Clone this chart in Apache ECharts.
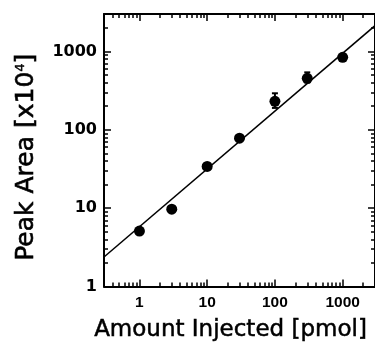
<!DOCTYPE html>
<html><head><meta charset="utf-8">
<script src="https://cdn.jsdelivr.net/npm/echarts@6/dist/echarts.min.js"></script>
<style>html,body{margin:0;padding:0;background:#fff}#c{width:375px;height:351px}</style>
</head><body><div id="c"></div>
<script>
// Data
const amounts = [1, 3, 10, 30, 100, 300, 1000];          // pmol
const peakAreas = [5.1, 9.7, 34, 78, 231, 453, 839];     // x10^4
const errLow  = [null, null, null, null, 190, 400, null];
const errHigh = [null, null, null, null, 292, 540, null];
const fitX = [0.3, 3000];
const fitY = [2.38, 2130];
// Tick values
const xMajorTicks = [1, 10, 100, 1000];
const xMinorTicks = [0.3,0.4,0.5,0.6,0.7,0.8,0.9,2,3,4,5,6,7,8,9,20,30,40,50,60,70,80,90,200,300,400,500,600,700,800,900,2000,3000];
const yMajorTicks = [1, 10, 100, 1000];
const yMinorTicks = [2,3,4,5,6,7,8,9,20,30,40,50,60,70,80,90,200,300,400,500,600,700,800,900,2000,3000];
const xTitle = 'Amount Injected [pmol]';
const yTitle = 'Peak Area [x10{sup|4}]';

const FONT = 'DejaVu Sans';
const lineStyle = {color: '#000', width: 2};

function xAxisDef(pos, ticks, len, showLine, labels, name) {
  return {
    type: 'log', logBase: 10, min: 0.3, max: 3000, position: pos,
    axisLine: {show: showLine, lineStyle: lineStyle},
    axisTick: {show: true, inside: true, length: len, customValues: ticks, lineStyle: {color: '#000', width: 1.5}},
    axisLabel: labels ? {show: true, inside: false, margin: 8, customValues: xMajorTicks,
      formatter: v => String(v), color: '#000', fontFamily: 'Liberation Sans', fontWeight: 'bold', fontSize: 15.5} : {show: false},
    splitLine: {show: false},
    name: name || '', nameLocation: 'middle', nameGap: 32,
    nameTextStyle: {fontFamily: FONT, fontSize: 23, color: '#000', padding: [0, 18, 0, 0],
      textBorderColor: '#000', textBorderWidth: 0.5}
  };
}
function yAxisDef(pos, ticks, len, showLine, labels, name) {
  return {
    type: 'log', logBase: 10, min: 1, max: 3000, position: pos,
    axisLine: {show: showLine, lineStyle: lineStyle},
    axisTick: {show: true, inside: true, length: len, customValues: ticks, lineStyle: {color: '#000', width: 1.5}},
    axisLabel: labels ? {show: true, margin: 7, customValues: yMajorTicks,
      formatter: v => String(v), color: '#000', fontFamily: FONT, fontWeight: 'bold', fontSize: 16} : {show: false},
    splitLine: {show: false},
    name: name || '', nameLocation: 'middle', nameGap: 65,
    nameTextStyle: {fontFamily: FONT, fontSize: 25, color: '#000', padding: [0, 14, 0, 0],
      textBorderColor: '#000', textBorderWidth: 0.6,
      rich: {sup: {fontFamily: FONT, fontSize: 13, verticalAlign: 'top', padding: [0, 0, 12, 0],
        textBorderColor: '#000', textBorderWidth: 0.4}}}
  };
}

const chart = echarts.init(document.getElementById('c'), null, {renderer: 'canvas'});
chart.setOption({
  animation: false,
  backgroundColor: '#fff',
  grid: {left: 104, right: -2, top: 14, bottom: 64.5, containLabel: false},
  xAxis: [
    xAxisDef('bottom', xMajorTicks, 7, true, true, xTitle),
    xAxisDef('bottom', xMinorTicks, 4, false, false),
    xAxisDef('top', xMajorTicks, 7, true, false),
    xAxisDef('top', xMinorTicks, 4, false, false)
  ],
  yAxis: [
    yAxisDef('left', yMajorTicks, 7, true, true, yTitle),
    yAxisDef('left', yMinorTicks, 4, false, false),
    yAxisDef('right', yMajorTicks, 7, true, false),
    yAxisDef('right', yMinorTicks, 4, false, false)
  ],
  series: [
    {
      type: 'line', xAxisIndex: 0, yAxisIndex: 0, symbol: 'none',
      data: fitX.map((x, i) => [x, fitY[i]]),
      lineStyle: {color: '#000', width: 1.5}, clip: true, z: 2
    },
    {
      type: 'custom', xAxisIndex: 0, yAxisIndex: 0, z: 3,
      data: amounts.map((x, i) => [x, errLow[i], errHigh[i]]).filter(d => d[1] != null),
      renderItem: function (params, api) {
        const lo = api.coord([api.value(0), api.value(1)]);
        const hi = api.coord([api.value(0), api.value(2)]);
        const w = 3;
        const st = {stroke: '#000', lineWidth: 2};
        return {type: 'group', children: [
          {type: 'line', shape: {x1: lo[0], y1: lo[1], x2: hi[0], y2: hi[1]}, style: st},
          {type: 'line', shape: {x1: hi[0] - w, y1: hi[1], x2: hi[0] + w, y2: hi[1]}, style: st},
          {type: 'line', shape: {x1: lo[0] - w, y1: lo[1], x2: lo[0] + w, y2: lo[1]}, style: st}
        ]};
      }
    },
    {
      type: 'scatter', xAxisIndex: 0, yAxisIndex: 0, symbol: 'circle', symbolSize: 11,
      itemStyle: {color: '#000', opacity: 1}, z: 4,
      data: amounts.map((x, i) => [x, peakAreas[i]])
    }
  ]
});
</script>
</body></html>
